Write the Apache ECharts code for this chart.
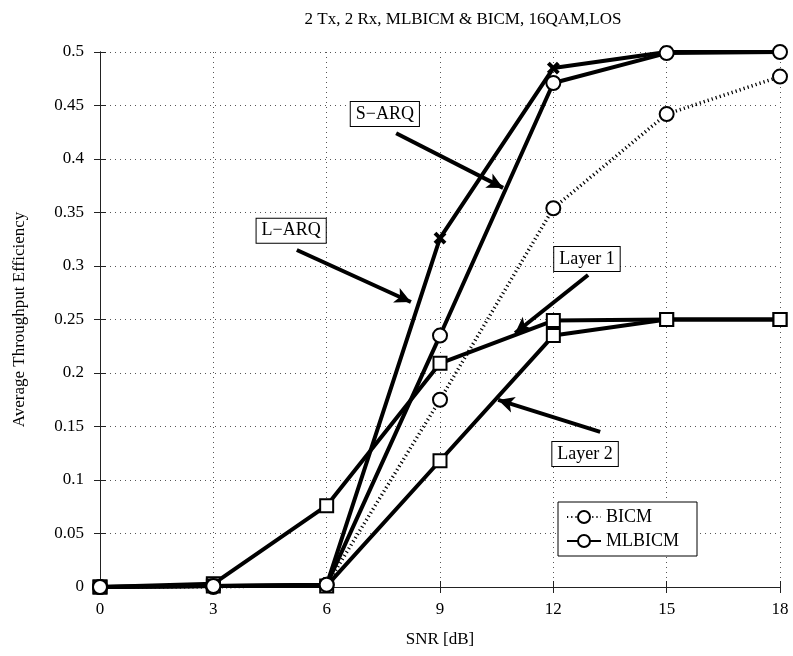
<!DOCTYPE html>
<html>
<head>
    <meta charset="utf-8">
    <title>Throughput</title>
    <script src="https://cdn.jsdelivr.net/npm/echarts@6/dist/echarts.min.js"></script>
</head>
<body style="margin:0">
    <div id="main" style="width:793px;height:656px;"></div>
    <script type="text/javascript">
        var snr = [0, 3, 6, 9, 12, 15, 18];
        var bicm = [0, 0, 0.002, 0.175, 0.354, 0.442, 0.477];
        var lArq = [0, 0.001, 0.002, 0.326, 0.485, 0.5, 0.5];
        var sArq = [0, 0.001, 0.002, 0.235, 0.471, 0.499, 0.5];
        var layer1 = [0, 0.003, 0.076, 0.209, 0.249, 0.25, 0.25];
        var layer2 = [0, 0.001, 0.001, 0.118, 0.235, 0.25, 0.25];

        // annotation boxes and arrows, in data units
        var noteText = ['S\u2212ARQ', 'L\u2212ARQ', 'Layer 1', 'Layer 2'];
        var notePos = [[7.54, 0.442], [5.06, 0.333], [12.89, 0.3065], [12.84, 0.1243]];
        var arrowFrom = [[7.84, 0.424], [5.21, 0.315], [12.92, 0.2916], [13.24, 0.1449]];
        var arrowTo = [[10.67, 0.373], [8.23, 0.2664], [10.99, 0.2374], [10.54, 0.1748]];

        var font = 'Liberation Serif';
        function pairs(ys) {
            return snr.map(function (x, i) { return [x, ys[i]]; });
        }
        var crossPath = 'path://M0,0L10,10M10,0L0,10';

        var myChart = echarts.init(document.getElementById('main'));
        var axisLine = { show: true, lineStyle: { color: '#222', width: 1 } };
        var tick = { show: true, inside: true, length: 6, lineStyle: { color: '#222' } };
        var lw = 4;

        var option = {
            animation: false,
            backgroundColor: '#fff',
            title: {
                text: '2 Tx, 2 Rx, MLBICM & BICM, 16QAM,LOS',
                left: 458,
                top: 6,
                textAlign: 'center',
                textStyle: { fontFamily: font, fontSize: 17, fontWeight: 'normal', color: '#000' }
            },
            legend: {
                data: ['BICM', 'MLBICM'],
                orient: 'vertical',
                left: 558,
                top: 502,
                itemWidth: 34,
                itemHeight: 15,
                itemGap: 6,
                padding: [6, 18, 6, 8],
                borderColor: '#000',
                borderWidth: 1,
                backgroundColor: '#fff',
                textStyle: { fontFamily: font, fontSize: 18, color: '#000' }
            },
            grid: { left: 100, right: 13, top: 52, bottom: 69 },
            xAxis: [{
                type: 'value', min: 0, max: 18, interval: 3,
                name: 'SNR [dB]', nameLocation: 'middle', nameGap: 44,
                nameTextStyle: { fontFamily: font, fontSize: 17, color: '#000' },
                axisLine: axisLine, axisTick: tick,
                axisLabel: { fontFamily: font, fontSize: 17, color: '#000', margin: 14 },
                splitLine: { show: true, lineStyle: { type: [1, 4], color: '#555' } }
            }, {
                type: 'value', min: 0, max: 18, interval: 3, position: 'top',
                axisLine: axisLine, axisTick: tick, axisLabel: { show: false }, splitLine: { show: false }
            }],
            yAxis: [{
                type: 'value', min: 0, max: 0.5, interval: 0.05,
                name: 'Average Throughput Efficiency', nameLocation: 'middle', nameGap: 72,
                nameTextStyle: { fontFamily: font, fontSize: 17, color: '#000' },
                axisLine: axisLine, axisTick: tick,
                axisLabel: { fontFamily: font, fontSize: 17, color: '#000', margin: 16 },
                splitLine: { show: true, lineStyle: { type: [1, 4], color: '#555' } }
            }, {
                type: 'value', min: 0, max: 0.5, interval: 0.05, position: 'right',
                axisLine: axisLine, axisTick: tick, axisLabel: { show: false }, splitLine: { show: false }
            }],
            series: [
                {
                    name: 'BICM', type: 'line', data: pairs(bicm),
                    symbol: 'emptyCircle', symbolSize: 14,
                    lineStyle: { color: '#000', width: 3.5, type: [1.2, 3] },
                    itemStyle: { color: '#000', borderColor: '#000', borderWidth: lw }
                },
                {
                    name: 'L-ARQ', type: 'line', data: pairs(lArq),
                    symbol: crossPath, symbolSize: 10,
                    lineStyle: { color: '#000', width: lw },
                    itemStyle: { color: '#000', borderColor: '#000', borderWidth: lw }
                },
                {
                    name: 'Layer 1', type: 'line', data: pairs(layer1),
                    symbol: 'emptyRect', symbolSize: 13,
                    lineStyle: { color: '#000', width: lw },
                    itemStyle: { color: '#000', borderColor: '#000', borderWidth: lw }
                },
                {
                    name: 'Layer 2', type: 'line', data: pairs(layer2),
                    symbol: 'emptyRect', symbolSize: 13,
                    lineStyle: { color: '#000', width: lw },
                    itemStyle: { color: '#000', borderColor: '#000', borderWidth: lw }
                },
                {
                    name: 'MLBICM', type: 'line', data: pairs(sArq),
                    symbol: 'emptyCircle', symbolSize: 14,
                    lineStyle: { color: '#000', width: lw },
                    itemStyle: { color: '#000', borderColor: '#000', borderWidth: lw }
                },
                {
                    name: 'notes', type: 'line', data: [],
                    markLine: {
                        silent: true,
                        symbol: ['none', 'arrow'],
                        symbolSize: [12, 16],
                        label: { show: false },
                        lineStyle: { color: '#000', width: lw, type: 'solid' },
                        data: arrowFrom.map(function (p, i) {
                            return [{ coord: p }, { coord: arrowTo[i] }];
                        })
                    },
                    markPoint: {
                        silent: true,
                        symbol: 'rect',
                        symbolSize: 1,
                        itemStyle: { color: 'rgba(0,0,0,0)' },
                        label: {
                            show: true, position: 'inside',
                            fontFamily: font, fontSize: 18, color: '#000',
                            backgroundColor: '#fff', borderColor: '#000', borderWidth: 1,
                            padding: [4, 5, 2, 5]
                        },
                        data: notePos.map(function (p, i) {
                            return { coord: p, value: noteText[i], label: { formatter: noteText[i] } };
                        })
                    }
                }
            ]
        };
        myChart.setOption(option);
    </script>
</body>
</html>
